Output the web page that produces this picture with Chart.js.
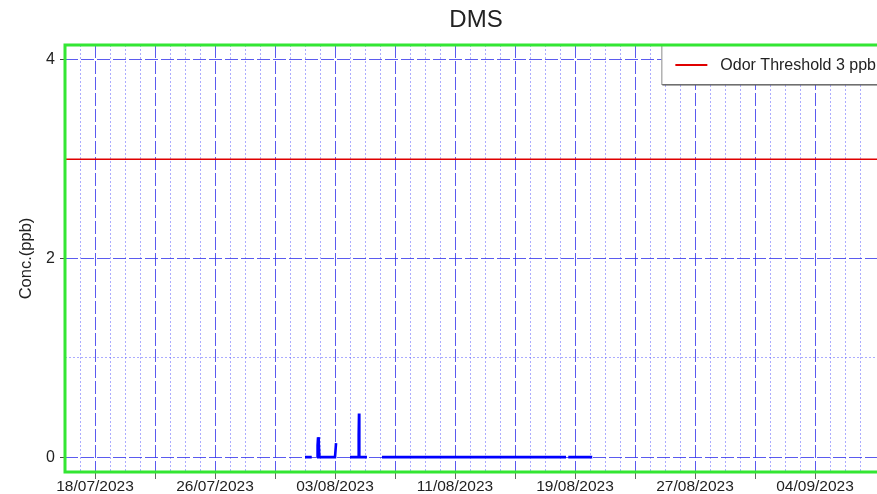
<!DOCTYPE html>
<html><head><meta charset="utf-8">
<script src="https://cdn.jsdelivr.net/npm/chart.js@4.4.0/dist/chart.umd.min.js"></script>
<style>
html,body{margin:0;padding:0;overflow:hidden;background:#fff;width:877px;height:494px}
#wrap{position:relative;width:900px;height:494px}
canvas{display:block}
</style></head><body>
<div id="wrap"><canvas id="c" width="900" height="494"></canvas></div>
<script>
// ---- data (x = days since 16/07/2023) ----
const chartTitle = 'DMS';
const yAxisTitle = 'Conc.(ppb)';
const xLabelDays = [2, 10, 18, 26, 34, 42, 50];
const xLabels = ['18/07/2023', '26/07/2023', '03/08/2023', '11/08/2023', '19/08/2023', '27/08/2023', '04/09/2023'];
const yMajorTicks = [0, 2, 4];
const yMinorTicks = [1, 3];
const dmsDays = [16.00, 16.45, 16.60, 16.80, 16.84, 16.87, 16.90, 16.93, 16.96, 18.00, 18.06, 18.07, 18.50,
                 19.00, 19.56, 19.58, 19.60, 19.62, 20.13, 20.60, 21.13, 33.40, 33.48, 33.55, 35.15];
const dmsConc = [0, 0, null, 0, 0.12, 0.20, 0.19, 0.15, 0, 0, 0, 0.14, null,
                 0, 0, 0.22, 0.44, 0, 0, null, 0, 0, null, 0, 0];
const thresholdLabel = 'Odor Threshold 3 ppb';
const thresholdValue = 3;
const X_MIN = 0, X_MAX = 54.8;
const Y_MIN = -0.15, Y_MAX = 4.15;

const FONT = "'Liberation Sans', Arial, sans-serif";
const MAJOR = 'rgba(50,50,235,0.8)';
const MINOR = 'rgba(90,90,255,0.5)';
const xMajorDays = [], xMinorDays = [];
for (let d = 1; d <= 53; d++) ((d - 2) % 4 === 0 ? xMajorDays : xMinorDays).push(d);

const dmsPoints = dmsDays.map((d, i) => ({x: d, y: dmsConc[i]}));
const thresholdPoints = [{x: X_MIN, y: thresholdValue}, {x: X_MAX, y: thresholdValue}];

const framePlugin = {
  id: 'frame',
  afterDraw(chart) {
    const a = chart.chartArea, ctx = chart.ctx;
    ctx.save();
    ctx.strokeStyle = '#33e633';
    ctx.lineWidth = 3;
    ctx.strokeRect(a.left, a.top, a.right - a.left, a.bottom - a.top);
    ctx.restore();
  }
};
const legendBoxPlugin = {
  id: 'legendBox',
  afterDatasetsDraw(chart) {
    const a = chart.chartArea, ctx = chart.ctx;
    const ds = chart.data.datasets.find(d => d.showInLegend);
    ctx.save();
    ctx.font = '16px ' + FONT;
    const tw = ctx.measureText(ds.label).width;
    const w = 59 + tw + 11;
    const left = a.right - w, top = a.top, h = 39;
    ctx.fillStyle = '#fff';
    ctx.fillRect(left, top, w, h);
    ctx.strokeStyle = '#8a8a8a';
    ctx.lineWidth = 1;
    ctx.strokeRect(left + 0.5, top + 0.5, w, h);
    ctx.strokeStyle = '#555';
    ctx.beginPath(); ctx.moveTo(left + 1, top + h + 1); ctx.lineTo(left + w, top + h + 1); ctx.stroke();
    ctx.strokeStyle = ds.borderColor;
    ctx.lineWidth = 2;
    ctx.beginPath(); ctx.moveTo(left + 14, top + 20); ctx.lineTo(left + 46, top + 20); ctx.stroke();
    ctx.fillStyle = '#222';
    ctx.textBaseline = 'middle';
    ctx.fillText(ds.label, left + 59, top + 20.5);
    ctx.restore();
  }
};

new Chart(document.getElementById('c'), {
  type: 'line',
  data: {
    datasets: [
      {label: 'DMS', data: dmsPoints, borderColor: '#0000ff', borderWidth: 2.6, pointRadius: 0,
       spanGaps: false, tension: 0, fill: false, showInLegend: false},
      {label: thresholdLabel, data: thresholdPoints, borderColor: '#e00000', borderWidth: 1.6,
       pointRadius: 0, tension: 0, fill: false, showInLegend: true}
    ]
  },
  options: {
    responsive: false, animation: false, devicePixelRatio: 1,
    layout: {padding: {left: 0, right: 13, top: 0, bottom: 0}},
    plugins: {
      legend: {display: false}, tooltip: {enabled: false},
      title: {display: true, text: chartTitle, fullSize: false, color: '#222',
              font: {family: FONT, size: 24, weight: 'normal'}, padding: {top: 6, bottom: 10.2}}
    },
    scales: {
      x: {
        type: 'linear', position: 'bottom', min: X_MIN, max: X_MAX,
        afterBuildTicks: s => { s.ticks = xMajorDays.map(v => ({value: v})); },
        afterFit: s => { s.height = 22; },
        ticks: {autoSkip: false, maxRotation: 0, minRotation: 0, padding: -2, color: '#222',
                font: {family: FONT, size: 15.5},
                callback: v => { const i = xLabelDays.indexOf(v); return i >= 0 ? xLabels[i] : ''; }},
        grid: {drawTicks: true, tickLength: 7, lineWidth: 1, color: MAJOR, tickColor: '#666', tickWidth: 1},
        border: {display: false, dash: [13, 3]}
      },
      xMinor: {
        type: 'linear', position: 'bottom', min: X_MIN, max: X_MAX,
        afterBuildTicks: s => { s.ticks = xMinorDays.map(v => ({value: v})); },
        afterFit: s => { s.height = 0; },
        ticks: {display: false},
        grid: {drawTicks: false, lineWidth: 1, color: MINOR},
        border: {display: false, dash: [2, 2]}
      },
      y: {
        type: 'linear', position: 'left', min: Y_MIN, max: Y_MAX,
        afterBuildTicks: s => { s.ticks = yMajorTicks.map(v => ({value: v})); },
        afterFit: s => { s.width = 65; },
        title: {display: true, text: yAxisTitle, color: '#222', font: {family: FONT, size: 16.5},
                padding: {top: 17, bottom: 0}},
        ticks: {autoSkip: false, padding: 5, color: '#222', font: {family: FONT, size: 16}},
        grid: {drawTicks: true, tickLength: 5, lineWidth: 1, color: MAJOR, tickColor: '#444', tickWidth: 1},
        border: {display: false, dash: [13, 3]}
      },
      yMinor: {
        type: 'linear', position: 'left', min: Y_MIN, max: Y_MAX,
        afterBuildTicks: s => { s.ticks = yMinorTicks.map(v => ({value: v})); },
        afterFit: s => { s.width = 0; },
        ticks: {display: false},
        grid: {drawTicks: false, lineWidth: 1, color: MINOR},
        border: {display: false, dash: [2, 2]}
      }
    }
  },
  plugins: [legendBoxPlugin, framePlugin]
});
</script>
</body></html>
